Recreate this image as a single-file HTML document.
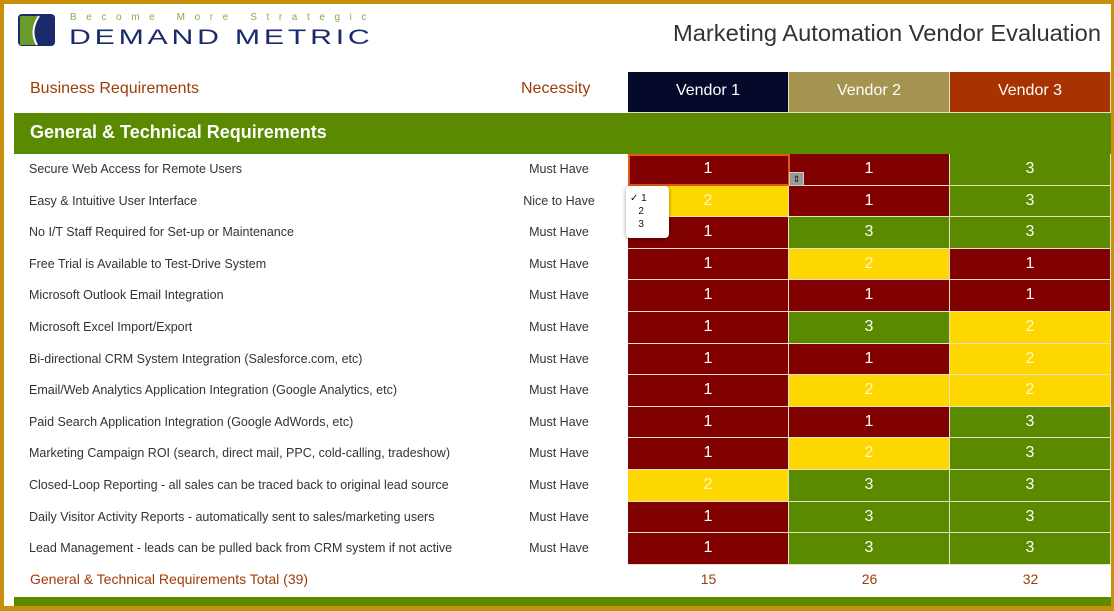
<!DOCTYPE html>
<html><head><style>
*{margin:0;padding:0;box-sizing:border-box}
body{width:1114px;height:611px;background:#c8900a;position:relative;overflow:hidden;font-family:"Liberation Sans",sans-serif}
#p{position:absolute;left:4px;top:4px;width:1107px;height:602px;background:#fff}
.a{position:absolute}
.c{position:absolute;text-align:center;color:#fff;font-size:16px;border-right:1px solid #e8e0c8;border-bottom:1px solid #e8e0c8}
.r{background:#800000}.y{background:#ffd700;color:#fff8c0}.g{background:#5a8a00}
.lab{position:absolute;left:29px;font-size:12.5px;color:#333}
.nec{position:absolute;left:490px;width:138px;text-align:center;font-size:12.5px;color:#333}
.tot{position:absolute;font-size:14px;color:#a03c0a;text-align:center;width:161px;top:571px}
</style></head><body>
<div id="p"></div>
<svg class="a" style="left:17px;top:13px" width="40" height="35"><rect x="1" y="1" width="37" height="32" rx="4" fill="#1a2a6a"/><path d="M3 3 H22 Q12 18 20 32 H3Z" fill="#6a9a2a"/><path d="M22 3 Q12 18 20 32" stroke="#fff" stroke-width="2" fill="none"/></svg>
<div class="a" style="left:70px;top:12px;font-size:10px;letter-spacing:9.6px;color:#8aaa50">Become More Strategic</div>
<div class="a" style="left:69px;top:25px;font-size:24px;letter-spacing:3px;color:#1a2a6a;transform:scale(1.26,0.9);transform-origin:top left">DEMAND METRIC</div>
<div class="a" style="left:673px;top:20px;font-size:23px;color:#333;transform:scaleX(1.03);transform-origin:left">Marketing Automation Vendor Evaluation</div>
<div class="a" style="left:30px;top:80px;font-size:16px;color:#a03c0a">Business Requirements</div>
<div class="a" style="left:521px;top:80px;font-size:16px;color:#a03c0a">Necessity</div>
<div class="c" style="left:628px;top:72px;width:161px;height:41px;line-height:38px;background:#050a2a">Vendor 1</div>
<div class="c" style="left:789px;top:72px;width:161px;height:41px;line-height:38px;background:#a59450">Vendor 2</div>
<div class="c" style="left:950px;top:72px;width:161px;height:41px;line-height:38px;background:#a83200">Vendor 3</div>
<div class="a" style="left:14px;top:113px;width:1097px;height:41px;background:#5a8a00"></div>
<div class="a" style="left:30px;top:122px;font-size:18px;font-weight:bold;color:#fff">General &amp; Technical Requirements</div>
<div id="rows"></div>
<div class="a" style="left:30px;top:571px;font-size:14px;color:#a03c0a">General &amp; Technical Requirements Total (39)</div>
<div class="tot" style="left:628px">15</div><div class="tot" style="left:789px">26</div><div class="tot" style="left:950px">32</div>
<div class="a" style="left:14px;top:597px;width:1097px;height:9px;background:#5a8a00"></div>
<script>
var L=["Secure Web Access for Remote Users","Easy & Intuitive User Interface","No I/T Staff Required for Set-up or Maintenance","Free Trial is Available to Test-Drive System","Microsoft Outlook Email Integration","Microsoft Excel Import/Export","Bi-directional CRM System Integration (Salesforce.com, etc)","Email/Web Analytics Application Integration (Google Analytics, etc)","Paid Search Application Integration (Google AdWords, etc)","Marketing Campaign ROI (search, direct mail, PPC, cold-calling, tradeshow)","Closed-Loop Reporting - all sales can be traced back to original lead source","Daily Visitor Activity Reports - automatically sent to sales/marketing users","Lead Management - leads can be pulled back from CRM system if not active"];
var V=[[1,1,3],[2,1,3],[1,3,3],[1,2,1],[1,1,1],[1,3,2],[1,1,2],[1,2,2],[1,1,3],[1,2,3],[2,3,3],[1,3,3],[1,3,3]];
var h="",cl={1:"r",2:"y",3:"g"};
for(var i=0;i<13;i++){var t=154+i*31.6;
h+='<div class="lab" style="top:'+(t+8)+'px">'+L[i].replace(/&/g,"&amp;")+'</div>';
h+='<div class="nec" style="top:'+(t+8)+'px">'+(i==1?"Nice to Have":"Must Have")+'</div>';
for(var j=0;j<3;j++)h+='<div class="c '+cl[V[i][j]]+'" style="left:'+(628+161*j)+'px;top:'+t+'px;width:161px;height:31.6px;line-height:30px">'+V[i][j]+'</div>';}
document.getElementById("rows").innerHTML=h;
</script>
<div class="a" style="left:628px;top:154px;width:162px;height:32px;border:2px solid #e05a10"></div>
<div class="a" style="left:789px;top:172px;width:15px;height:14px;background:#999;border:1px solid #ccc;color:#111;font-size:9px;text-align:center;line-height:12px">&#x21D5;</div>
<div class="a" style="left:626px;top:186px;width:43px;height:52px;background:#fff;border-radius:4px;box-shadow:0 1px 4px rgba(0,0,0,.4);font-size:10px;color:#111;line-height:13px;padding:6px 0 0 4px">&#x2713; 1<br>&nbsp;&nbsp;&nbsp;2<br>&nbsp;&nbsp;&nbsp;3</div>
</body></html>
